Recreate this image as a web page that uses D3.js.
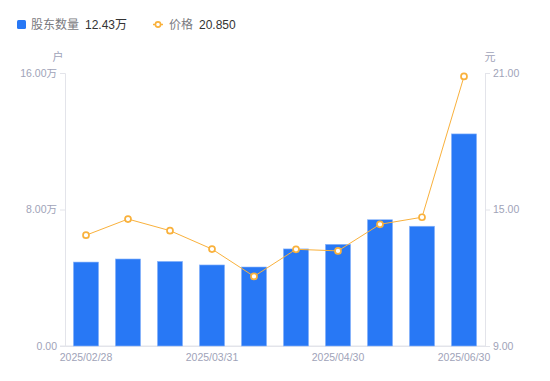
<!DOCTYPE html>
<html><head><meta charset="utf-8">
<script src="https://cdn.jsdelivr.net/npm/d3@7/dist/d3.min.js"></script>
<style>body{margin:0;background:#fff;font-family:"Liberation Sans",Arial,"Noto Sans CJK SC",sans-serif;}</style>
</head><body><svg id="c" width="550" height="381"></svg>
<script>
const dates = ["2025/02/28","2025/03/10","2025/03/20","2025/03/31","2025/04/10","2025/04/18","2025/04/30","2025/05/20","2025/06/10","2025/06/30"];
const holders = [4.92,5.10,4.96,4.75,4.63,5.69,5.96,7.40,7.02,12.43]; // 万户
const prices = [13.87,14.58,14.07,13.26,12.06,13.25,13.18,14.35,14.66,20.85];
const leftTicks = [0,8,16];
const rightTicks = [9,15,21];
const shownDates = ["2025/02/28","2025/03/31","2025/04/30","2025/06/30"];

const svg = d3.select("#c");
const L=65,R=485,T=73,B=346;
const labelColor="#a0a3b8", axisColor="#e3e4ea";
const barColor="#2878f5", lineColor="#f9b13c";
const x = d3.scaleBand().domain(dates).range([L,R]).paddingInner(0.4).paddingOuter(0.2);
const yL = d3.scaleLinear().domain([0,16]).range([B,T]);
const yR = d3.scaleLinear().domain([9,21]).range([B,T]);

// axes
const gl = svg.append("g").attr("transform",`translate(${L},0)`)
  .call(d3.axisLeft(yL).tickValues(leftTicks).tickSize(5).tickPadding(3).tickFormat(d=> d===0?"0.00":d3.format(".2f")(d)+"万"));
const gr = svg.append("g").attr("transform",`translate(${R},0)`)
  .call(d3.axisRight(yR).tickValues(rightTicks).tickSize(5).tickPadding(3).tickFormat(d3.format(".2f")));
const gb = svg.append("g").attr("transform",`translate(0,${B})`)
  .call(d3.axisBottom(x).tickValues(shownDates).tickSize(0).tickPadding(8));
[gl,gr,gb].forEach(g=>{
  g.select(".domain").attr("stroke",axisColor);
  g.selectAll(".tick line").attr("stroke",axisColor);
  g.selectAll("text").attr("fill",labelColor).style("font-size","10.5px").style("font-family",'"Liberation Sans",Arial,"Noto Sans CJK SC",sans-serif');
});
svg.append("line").attr("x1",L-5).attr("x2",R).attr("y1",B).attr("y2",B).attr("stroke",axisColor);

svg.append("text").attr("x",58).attr("y",61).attr("text-anchor","middle").attr("fill",labelColor).style("font-size","11px").text("户");
svg.append("text").attr("x",490).attr("y",61).attr("text-anchor","middle").attr("fill",labelColor).style("font-size","11px").text("元");

// bars
svg.append("g").selectAll("rect").data(dates).join("rect")
  .attr("x",d=>x(d)).attr("width",x.bandwidth())
  .attr("y",(d,i)=>yL(holders[i])).attr("height",(d,i)=>B-yL(holders[i]))
  .attr("fill",barColor).attr("stroke","#8fb8fb").attr("stroke-width",0.6);

// line
const cx = d=>x(d)+x.bandwidth()/2;
svg.append("path").datum(dates).attr("fill","none").attr("stroke",lineColor).attr("stroke-width",1)
  .attr("d",d3.line().x(d=>cx(d)).y((d,i)=>yR(prices[i])));
svg.append("g").selectAll("circle").data(dates).join("circle")
  .attr("cx",cx).attr("cy",(d,i)=>yR(prices[i])).attr("r",3)
  .attr("fill","#fff").attr("stroke",lineColor).attr("stroke-width",1.7);

// legend
svg.append("rect").attr("x",17).attr("y",20).attr("width",9).attr("height",9).attr("rx",1.5).attr("fill",barColor);
svg.append("text").attr("x",31).attr("y",29).attr("fill","#7a7a80").style("font-size","12px").text("股东数量");
svg.append("text").attr("x",85).attr("y",29).attr("fill","#333").style("font-size","12px").text(d3.format(".2f")(holders[holders.length-1])+"万");
svg.append("line").attr("x1",153).attr("x2",163).attr("y1",24.5).attr("y2",24.5).attr("stroke",lineColor).attr("stroke-width",1.5);
svg.append("circle").attr("cx",158).attr("cy",24.5).attr("r",2.6).attr("fill","#fff").attr("stroke",lineColor).attr("stroke-width",1.6);
svg.append("text").attr("x",169).attr("y",29).attr("fill","#7a7a80").style("font-size","12px").text("价格");
svg.append("text").attr("x",199).attr("y",29).attr("fill","#333").style("font-size","12px").text(d3.format(".3f")(prices[prices.length-1]));
</script></body></html>
